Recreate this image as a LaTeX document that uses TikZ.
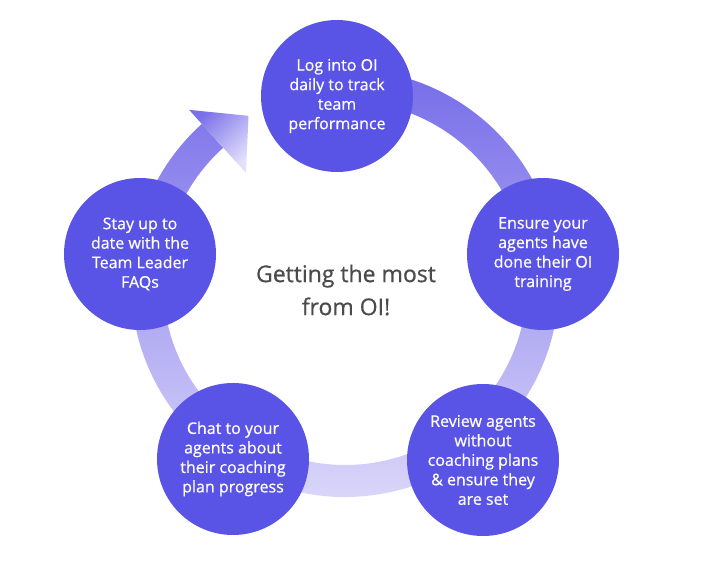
\documentclass[tikz,border=0pt]{standalone}
\usepackage{fontspec}
\setmainfont{Open Sans}
\newfontfamily\stepfont{Open Sans}[FakeBold=0.6]
\usetikzlibrary{calc,positioning}
\definecolor{stepviolet}{HTML}{5A54E6}
\definecolor{ringtop}{HTML}{7268E8}
\definecolor{ringbottom}{HTML}{DDDAFA}
\definecolor{arrowdark}{HTML}{7A70EA}
\definecolor{arrowlight}{HTML}{E3E0FB}
\definecolor{titlegray}{HTML}{4B4B4B}

\begin{document}
\begin{tikzpicture}[x=1pt,y=1pt,
		stepnode/.style={circle,fill=stepviolet,text=white,minimum size=152pt,inner sep=0pt,align=center,font=\stepfont\fontsize{16}{19.5}\selectfont},
		titlenode/.style={text=titlegray,align=center,font=\stepfont\fontsize{23}{33}\selectfont}]
		\path[use as bounding box] (0,0) rectangle (702,565);
		\coordinate (c) at (345,282);
		\newcommand{\ringin}{182}
		\newcommand{\ringout}{214}
		% ring
		\shade[top color=ringtop,bottom color=ringbottom] ($(c)+(100:\ringout)$) arc[start angle=100,end angle=-228,radius=\ringout] -- ($(c)+(-228:\ringin)$) arc[start angle=-228,end angle=100,radius=\ringin] -- cycle;
		% arrow head
		\shade[top color=arrowdark,bottom color=arrowlight,shading angle=45] ($(c)+(132:233)$) -- ($(c)+(120:193)$) -- ($(c)+(132:148)$) -- cycle;
		
		\node[stepnode] (login) at (337,469) {Log into OI\\daily to track\\team\\performance};
		\node[stepnode] (training) at (543,311) {Ensure your\\agents have\\done their OI\\training};
		\node[stepnode] (review) at (483,105) {Review agents\\without\\coaching plans\\\& ensure they\\are set};
		\node[stepnode] (chat) at (233,106) {Chat to your\\agents about\\their coaching\\plan progress};
		\node[stepnode] (faqs) at (140,311) {Stay up to\\date with the\\Team Leader\\FAQs};
		\node[titlenode] (title) at (346,275) {Getting the most\\from OI!};
	\end{tikzpicture}
\end{document}
